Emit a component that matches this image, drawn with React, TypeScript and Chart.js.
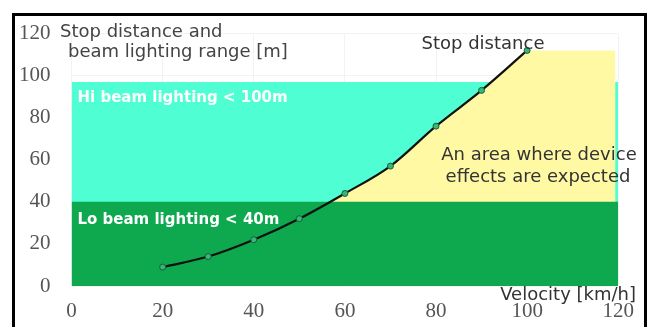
import React, { useEffect, useRef } from "react";
import { Chart, registerables } from "chart.js";

Chart.register(...registerables);

// ---- data ----
const speeds = [20, 30, 40, 50, 60, 70, 80, 90, 100];
const stopDistance = [9, 14, 22, 32, 44, 57, 76, 93, 112];
const xTicks = [0, 20, 40, 60, 80, 100, 120];
const yTicks = [0, 20, 40, 60, 80, 100, 120];
const loBeamRange = 40;
const hiBeamRange = 97;
const expectedAreaStartIndex = 3; // from 50 km/h onward (crosses 40 m near 57)
const expectedAreaEndSpeed = 119.4;
const axisMin = 0;
const axisMax = 120;

const yTitleLines = ["Stop distance and", "beam lighting range [m]"];
const xTitle = "Velocity [km/h]";
const curveLabel = "Stop distance";
const hiLabel = "Hi beam lighting < 100m";
const loLabel = "Lo beam lighting < 40m";
const areaLabel = ["An area where device", "effects are expected"];

const SANS = "'DejaVu Sans', sans-serif";
const BOLD = "'DejaVu Sans', sans-serif";
const SERIF = "'Liberation Serif', 'DejaVu Serif', serif";

const textPlugin = {
  id: "texts",
  afterDraw(chart: any) {
    const ctx = chart.ctx as CanvasRenderingContext2D;
    const xs = chart.scales.x;
    const ys = chart.scales.y;
    ctx.save();
    ctx.textBaseline = "alphabetic";

    // y title
    ctx.fillStyle = "#444";
    ctx.font = `18px ${SANS}`;
    ctx.textAlign = "left";
    ctx.fillText(yTitleLines[0], 60, 37);
    ctx.fillText(yTitleLines[1], 68, 57);

    // band labels
    ctx.fillStyle = "#ffffff";
    ctx.font = `bold 15px ${BOLD}`;
    ctx.fillText(hiLabel, xs.left + 6, ys.getPixelForValue(hiBeamRange) + 20.5);
    ctx.fillText(loLabel, xs.left + 6, ys.getPixelForValue(loBeamRange) + 22);

    // curve label
    ctx.fillStyle = "#333";
    ctx.font = `18px ${SANS}`;
    ctx.textAlign = "center";
    ctx.fillText(curveLabel, 483, 48.5);

    // area label
    ctx.fillText(areaLabel[0], 539, 159.5);
    ctx.fillText(areaLabel[1], 538, 181.5);

    // x title
    ctx.textAlign = "right";
    ctx.fillText(xTitle, 636, 300);
    ctx.restore();
  },
};

export default function App() {
  const ref = useRef<HTMLCanvasElement>(null);

  useEffect(() => {
    if (!ref.current) return;
    const curve = speeds.map((x, i) => ({ x, y: stopDistance[i] }));
    const area = [
      ...curve.slice(expectedAreaStartIndex),
      { x: expectedAreaEndSpeed, y: stopDistance[stopDistance.length - 1] },
      { x: expectedAreaEndSpeed, y: axisMin },
    ];
    const chart = new Chart(ref.current, {
      type: "line",
      data: {
        datasets: [
          {
            label: curveLabel,
            data: curve,
            borderColor: "#111",
            borderWidth: 2.2,
            cubicInterpolationMode: "monotone",
            pointRadius: 3,
            pointBackgroundColor: "#34b777",
            pointBorderColor: "#1d5c3c",
            pointBorderWidth: 1,
            fill: false,
            order: 0,
          },
          {
            label: "lo",
            data: [
              { x: axisMin, y: loBeamRange },
              { x: axisMax, y: loBeamRange },
            ],
            borderWidth: 0,
            pointRadius: 0,
            backgroundColor: "#0ea84f",
            fill: "origin",
            order: 1,
          },
          {
            label: "area",
            data: area,
            borderWidth: 0,
            pointRadius: 0,
            backgroundColor: "#fff9a4",
            fill: "origin",
            order: 2,
          },
          {
            label: "hi",
            data: [
              { x: axisMin, y: hiBeamRange },
              { x: axisMax, y: hiBeamRange },
            ],
            borderWidth: 0,
            pointRadius: 0,
            backgroundColor: "#50fed3",
            fill: "origin",
            order: 3,
          },
        ],
      },
      options: {
        responsive: false,
        animation: false,
        layout: { padding: { top: 31, right: 26, left: 0, bottom: 0 } },
        plugins: { legend: { display: false }, tooltip: { enabled: false } },
        scales: {
          x: {
            type: "linear",
            min: axisMin,
            max: axisMax,
            z: 1,
            afterBuildTicks: (s: any) => {
              s.ticks = xTicks.map((v) => ({ value: v }));
            },
            afterFit: (s: any) => {
              s.height = 41;
            },
            border: { display: false },
            grid: { color: "rgba(235,235,235,0.6)", drawTicks: false, lineWidth: 1 },
            ticks: {
              padding: 13,
              color: "#555",
              font: { family: SERIF, size: 21 },
            },
          },
          y: {
            type: "linear",
            min: axisMin,
            max: axisMax,
            z: 1,
            afterBuildTicks: (s: any) => {
              s.ticks = yTicks.map((v) => ({ value: v }));
            },
            afterFit: (s: any) => {
              s.width = 71.5;
            },
            border: { display: false },
            grid: { color: "rgba(235,235,235,0.6)", drawTicks: false, lineWidth: 1 },
            ticks: {
              padding: 21,
              color: "#555",
              font: { family: SERIF, size: 21 },
            },
          },
        },
      },
      plugins: [textPlugin],
    } as any);
    return () => chart.destroy();
  }, []);

  return (
    <div
      style={{
        position: "fixed",
        left: 0,
        top: 0,
        width: 647,
        height: 327,
        background: "#fff",
        overflow: "hidden",
      }}
    >
      <canvas ref={ref} width={647} height={327} style={{ position: "absolute", left: 0, top: 0 }} />
      <div
        style={{
          position: "absolute",
          left: 12,
          top: 13,
          width: 629,
          height: 340,
          border: "3px solid #000",
          pointerEvents: "none",
        }}
      />
    </div>
  );
}
